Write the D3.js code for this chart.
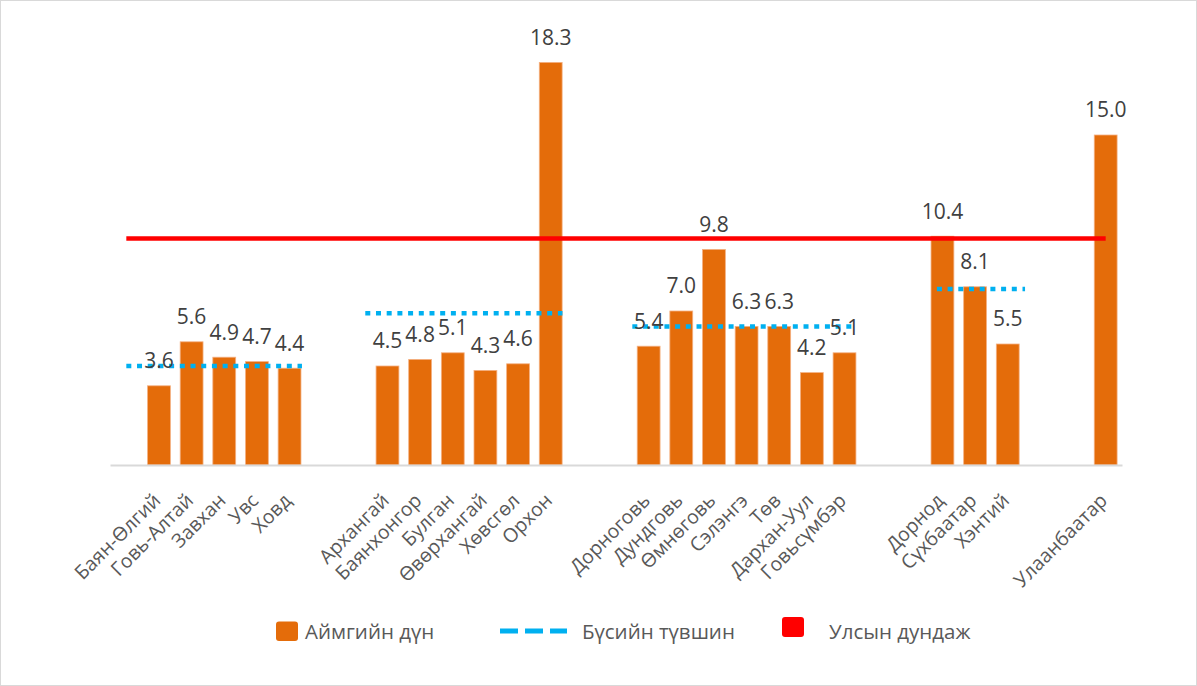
<!DOCTYPE html>
<html><head><meta charset="utf-8">
<script src="https://cdn.jsdelivr.net/npm/d3@7"></script>
<style>body{margin:0;background:#fff}svg{display:block}</style>
</head><body>
<svg id="c" width="1197" height="686"></svg>
<script>
// ---- data ----
const westCats = ["Баян-Өлгий", "Говь-Алтай", "Завхан", "Увс", "Ховд"];
const westVals = [3.6, 5.6, 4.9, 4.7, 4.4];
const khangaiCats = ["Архангай", "Баянхонгор", "Булган", "Өвөрхангай", "Хөвсгөл", "Орхон"];
const khangaiVals = [4.5, 4.8, 5.1, 4.3, 4.6, 18.3];
const centralCats = ["Дорноговь", "Дундговь", "Өмнөговь", "Сэлэнгэ", "Төв", "Дархан-Уул", "Говьсүмбэр"];
const centralVals = [5.4, 7.0, 9.8, 6.3, 6.3, 4.2, 5.1];
const eastCats = ["Дорнод", "Сүхбаатар", "Хэнтий"];
const eastVals = [10.4, 8.1, 5.5];
const ubCats = ["Улаанбаатар"];
const ubVals = [15.0];
const regionLevels = [4.5, 6.9, 6.3, 8.0]; // Бүсийн түвшин
const nationalAvg = 10.3;                  // Улсын дундаж
const legendLabels = ["Аймгийн дүн", "Бүсийн түвшин", "Улсын дундаж"];

// ---- layout ----
const W = 1197, H = 686;
const groups = [
  {cats: westCats, vals: westVals},
  {cats: khangaiCats, vals: khangaiVals},
  {cats: centralCats, vals: centralVals},
  {cats: eastCats, vals: eastVals},
  {cats: ubCats, vals: ubVals}
];
// line extents relative to first/last bar centres, in category steps
const regionSpan = [[-1.0, 0.38], [-0.68, 0.36], [-0.5, 0.3], [-0.17, 0.53]];

const domain = ["_s0"];
const bars = [];
groups.forEach((g, gi) => {
  if (gi > 0) { domain.push("_a" + gi, "_b" + gi); }
  g.cats.forEach((c, i) => { domain.push(c); bars.push({cat: c, val: g.vals[i]}); });
});

const svg = d3.select("#c");
svg.append("rect").attr("x", 0.5).attr("y", 0.5).attr("width", W - 1).attr("height", H - 1)
  .attr("fill", "#fff").attr("stroke", "#d9d9d9");

const x = d3.scaleBand().domain(domain).range([110, 1122]).paddingInner(0.3).paddingOuter(0.15);
const step = x.step();
const cx = c => x(c) + x.bandwidth() / 2;
const y = d3.scaleLinear().domain([0, 20]).range([465, 25]);

const font = "'Open Sans', sans-serif";

// bars
svg.append("g").selectAll("rect").data(bars).join("rect")
  .attr("x", d => x(d.cat)).attr("width", x.bandwidth())
  .attr("y", d => y(d.val)).attr("height", d => y(0) - y(d.val))
  .attr("fill", "#E46C0A").attr("stroke", "#F4B183").attr("stroke-width", 0.8);

// axis
const xAxis = d3.axisBottom(x).tickSize(0).tickFormat(d => d.startsWith("_") ? "" : d);
const ax = svg.append("g").attr("transform", `translate(0,${y(0)})`).call(xAxis);
ax.select(".domain").attr("stroke", "#d9d9d9").attr("stroke-width", 2);
ax.selectAll(".tick text")
  .attr("font-family", font).attr("font-size", 19.5).attr("fill", "#595959")
  .attr("text-anchor", "end")
  .attr("transform", "translate(-2,32) rotate(-45)")
  .attr("x", 0).attr("y", 0).attr("dy", "0.35em");

// regional lines
groups.slice(0, 4).forEach((g, gi) => {
  const x1 = cx(g.cats[0]) + regionSpan[gi][0] * step;
  const x2 = cx(g.cats[g.cats.length - 1]) + regionSpan[gi][1] * step;
  svg.append("line").attr("x1", x1).attr("x2", x2)
    .attr("y1", y(regionLevels[gi])).attr("y2", y(regionLevels[gi]))
    .attr("stroke", "#00B0F0").attr("stroke-width", 4.5).attr("stroke-dasharray", "5,5.7");
});

// national line
svg.append("line").attr("x1", cx("_s0")).attr("x2", cx(ubCats[0]))
  .attr("y1", y(nationalAvg)).attr("y2", y(nationalAvg))
  .attr("stroke", "#FF0000").attr("stroke-width", 4.5);

// value labels
svg.append("g").selectAll("text").data(bars).join("text")
  .attr("x", d => cx(d.cat)).attr("y", d => y(d.val) - 25).attr("dy", "0.35em")
  .attr("text-anchor", "middle").attr("font-family", font).attr("font-size", 21)
  .attr("fill", "#404040").text(d => d.val.toFixed(1));

// legend
const lg = svg.append("g").attr("font-family", font).attr("font-size", 20.5).attr("fill", "#595959");
lg.append("rect").attr("x", 276).attr("y", 621.5).attr("width", 22).attr("height", 19.5).attr("rx", 3).attr("fill", "#E46C0A");
lg.append("text").attr("x", 305).attr("y", 632).attr("dy", "0.35em").text(legendLabels[0]);
lg.append("line").attr("x1", 500).attr("x2", 567).attr("y1", 631).attr("y2", 631)
  .attr("stroke", "#00B0F0").attr("stroke-width", 5).attr("stroke-dasharray", "18,7");
lg.append("text").attr("x", 582).attr("y", 632).attr("dy", "0.35em").text(legendLabels[1]);
lg.append("rect").attr("x", 782).attr("y", 617).attr("width", 22).attr("height", 20).attr("rx", 3).attr("fill", "#FF0000");
lg.append("text").attr("x", 829).attr("y", 632).attr("dy", "0.35em").text(legendLabels[2]);
</script>
</body></html>
